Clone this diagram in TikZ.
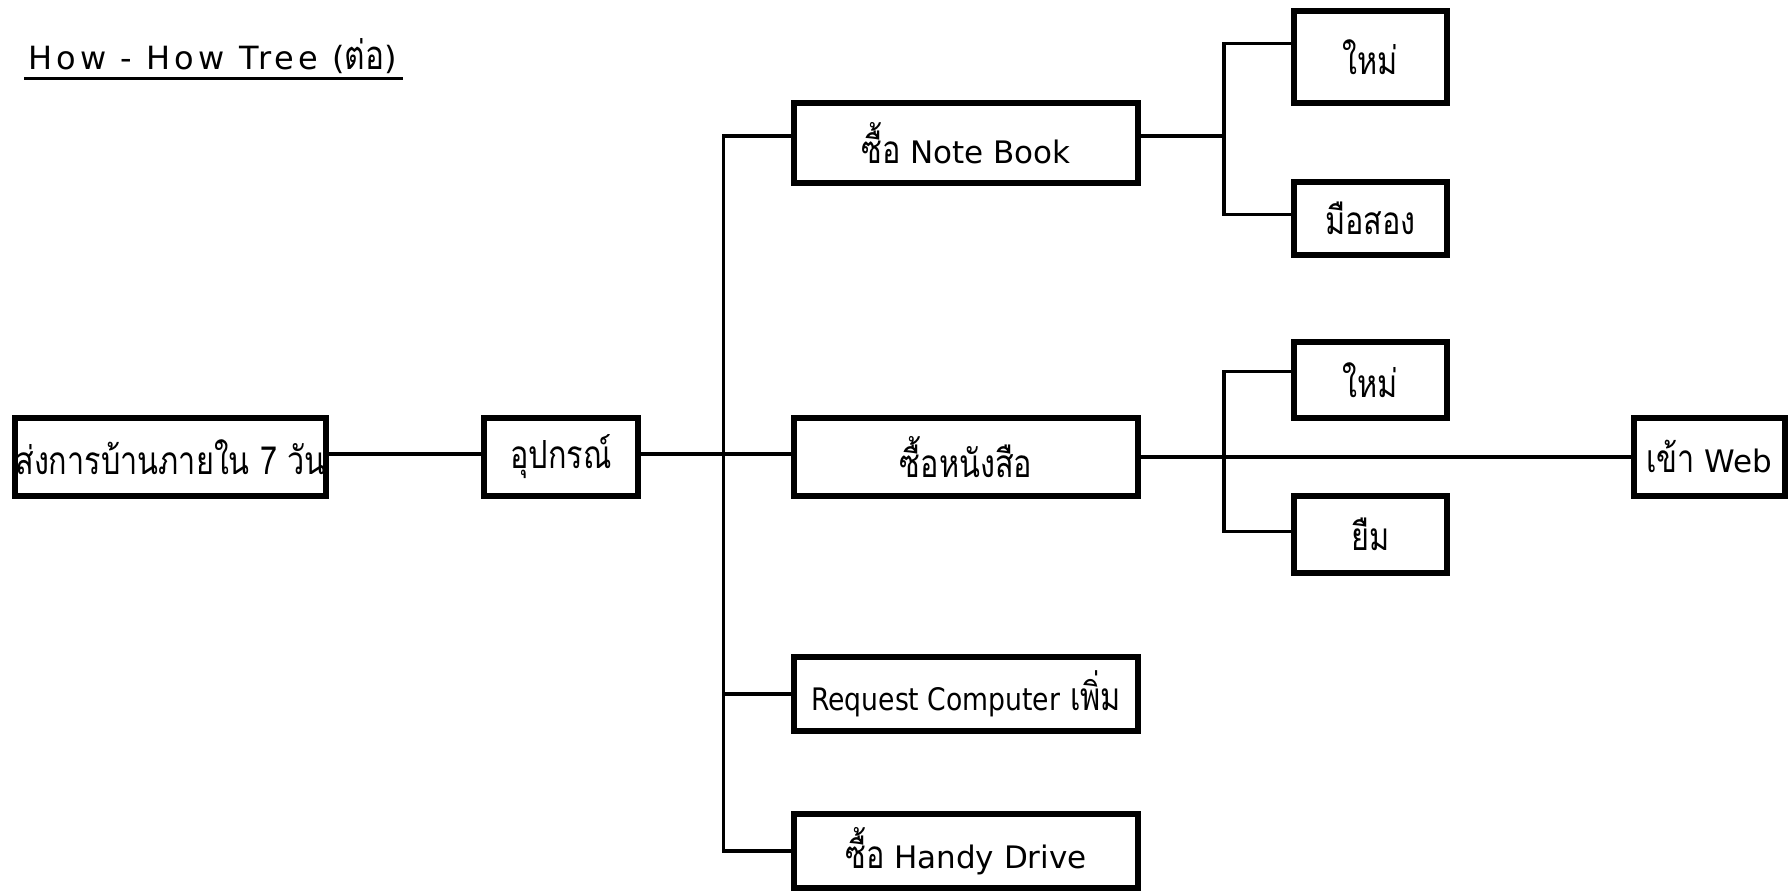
\documentclass[tikz,border=0pt]{standalone}
\usepackage{fontspec}
\setmainfont{DejaVu Sans}
\newfontfamily\thai[Script=Thai,Scale=1.25,FakeStretch=0.79]{Loma}
\newfontfamily\narrow[FakeStretch=0.86]{DejaVu Sans}
\usetikzlibrary{positioning}

\tikzset{
  box/.style={rectangle, draw, line width=6pt, inner sep=0pt, align=center,
              font=\fontsize{31}{36}\selectfont},
  link/.style={line width=3.5pt}
}

\begin{document}
\begin{tikzpicture}[x=1pt, y=-1pt]
  \useasboundingbox (0,0) rectangle (1791,895);

  % heading, underlined by hand
  \node[anchor=base west, inner sep=0pt,
        font=\fontsize{32}{36}\selectfont\addfontfeature{LetterSpace=13}] (title)
    at (28,69) {How - How Tree ({\thai ต่อ})};
  \draw[line width=3.3pt] ([xshift=-4pt,yshift=-9.5pt]title.base west)
    -- ([xshift=6pt,yshift=-9.5pt]title.base east);

  % goal and first step
  \node[box, minimum width=309, minimum height=78] (goal) at (170.5,457) {\thai ส่งการบ้านภายใน 7 วัน};
  \node[box, minimum width=154, minimum height=78] (tool) at (561,457) {\thai อุปกรณ์};

  % second level
  \node[box, minimum width=344, minimum height=80] (nb)  at (966,143) {{\thai ซื้อ} Note Book};
  \node[box, minimum width=344, minimum height=78] (ns)  at (966,457) {\thai ซื้อหนังสือ};
  \node[box, minimum width=344, minimum height=74] (req) at (966,694) {{\narrow Request Computer} {\thai เพิ่ม}};
  \node[box, minimum width=344, minimum height=74] (hd)  at (966,851) {{\thai ซื้อ} Handy Drive};

  % third level
  \node[box, minimum width=153, minimum height=92] (new1)   at (1370.5,57)  {\thai ใหม่};
  \node[box, minimum width=153, minimum height=73] (used)   at (1370.5,218.5) {\thai มือสอง};
  \node[box, minimum width=153, minimum height=76] (new2)   at (1370.5,380) {\thai ใหม่};
  \node[box, minimum width=153, minimum height=77] (borrow) at (1370.5,534.5) {\thai ยืม};
  \node[box, minimum width=151, minimum height=78] (web)    at (1709.5,457) {{\thai เข้า} Web};

  \coordinate (t1) at (723.5,0);
  \coordinate (t2) at (1224,0);

  \draw[link] ([yshift=3pt]goal.east) -- ([yshift=3pt]tool.west);
  \draw[link] ([yshift=3pt]tool.east) -- ([yshift=3pt]ns.west);
  \draw[link] ([yshift=7pt]nb.west) -- ([yshift=7pt]nb.west -| t1) -- (hd.west -| t1) -- (hd.west);
  \draw[link] (req.west -| t1) -- (req.west);

  \draw[link] ([yshift=7pt]nb.east) -- ([yshift=7pt]nb.east -| t2);
  \draw[link] ([yshift=13.5pt]new1.west) -- ([yshift=13.5pt]new1.west -| t2)
              -- ([yshift=4pt]used.west -| t2) -- ([yshift=4pt]used.west);
  \draw[link] ([yshift=8.5pt]new2.west) -- ([yshift=8.5pt]new2.west -| t2)
              -- ([yshift=3pt]borrow.west -| t2) -- ([yshift=3pt]borrow.west);
  \draw[link] (ns.east) -- (web.west);
\end{tikzpicture}
\end{document}
